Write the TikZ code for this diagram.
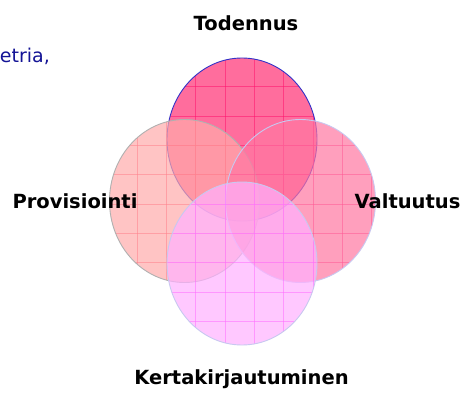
\documentclass[tikz,border=0pt]{standalone}
\usepackage{fontspec}
\setmainfont{DejaVu Sans}
\definecolor{topfill}{RGB}{255,48,116}
\definecolor{leftfill}{RGB}{255,171,171}
\definecolor{rightfill}{RGB}{255,119,162}
\definecolor{botfill}{RGB}{255,177,255}
\definecolor{topgrid}{RGB}{255,20,110}
\definecolor{leftgrid}{RGB}{255,130,140}
\definecolor{rightgrid}{RGB}{255,90,150}
\definecolor{botgrid}{RGB}{255,110,255}
\definecolor{topline}{RGB}{50,50,200}
\definecolor{leftline}{RGB}{176,176,176}
\definecolor{rightline}{RGB}{200,200,240}
\definecolor{botline}{RGB}{200,200,240}
\definecolor{navytext}{RGB}{20,20,150}
\tikzset{
  lbl/.style={font=\fontsize{19.5}{23}\selectfont\bfseries, text=black, inner sep=0pt},
  gridln/.style={line width=0.6pt, opacity=0.55},
}
\newcommand{\vennset}[4]{%
  \fill[#2, fill opacity=0.7] #1 ellipse [x radius=75pt, y radius=81.5pt];
  \begin{scope}
    \clip #1 ellipse [x radius=75pt, y radius=81.5pt];
    \foreach \i in {0,...,15} {
      \draw[#3, gridln] (19.9+29.3*\i,0) -- (19.9+29.3*\i,393);
      \draw[#3, gridln] (0,28.1+29.3*\i) -- (466,28.1+29.3*\i);
    }
  \end{scope}
  \draw[#4, line width=0.9pt] #1 ellipse [x radius=75pt, y radius=81.5pt];
}
\begin{document}
\begin{tikzpicture}[x=1pt,y=-1pt]
  \useasboundingbox[fill=white] (0,0) rectangle (466,393);
  \vennset{(242,139.5)}{topfill}{topgrid}{topline}
  \vennset{(184.5,201)}{leftfill}{leftgrid}{leftline}
  \vennset{(300.5,201)}{rightfill}{rightgrid}{rightline}
  \vennset{(242,263.5)}{botfill}{botgrid}{botline}
  \node[lbl, anchor=base] (todennus) at (246,31) {Todennus};
  \node[lbl, anchor=base] (provisiointi) at (75,208) {Provisiointi};
  \node[lbl, anchor=base] (valtuutus) at (407.5,208) {Valtuutus};
  \node[lbl, anchor=base] (kerta) at (241.5,384) {Kertakirjautuminen};
  \node[anchor=base east, inner sep=0pt, text=navytext, font=\fontsize{19}{23}\selectfont] (etria) at (50,63) {etria,};
\end{tikzpicture}
\end{document}
